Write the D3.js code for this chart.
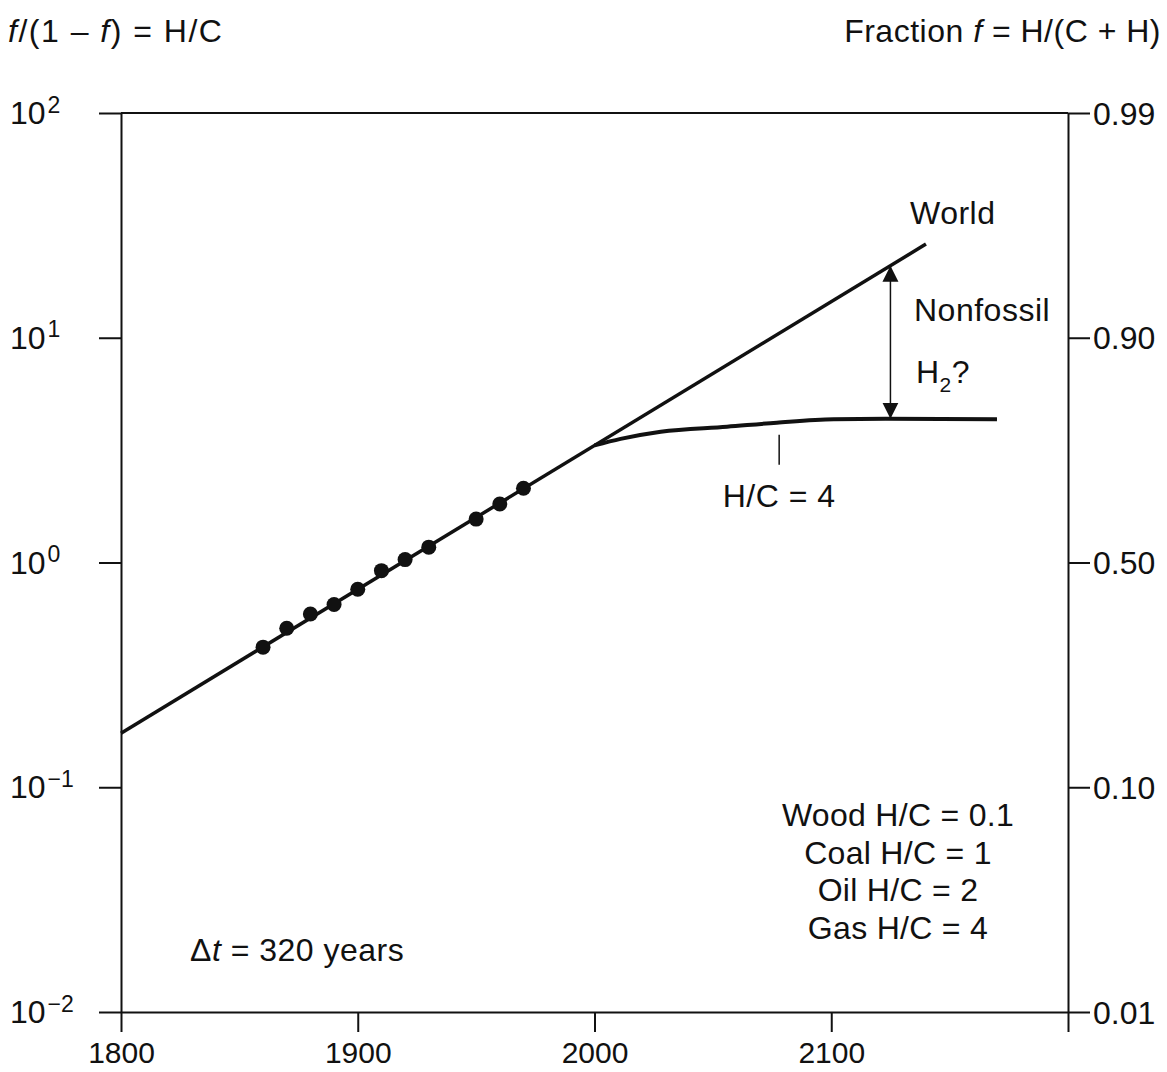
<!DOCTYPE html>
<html>
<head>
<meta charset="utf-8">
<script src="https://cdn.jsdelivr.net/npm/d3@7"></script>
<style>
body { margin: 0; background: #fff; }
text { font-family: "Liberation Sans", Arial, Helvetica, sans-serif; fill: #111; }
</style>
</head>
<body>
<div id="chart"></div>
<script>
// axis ticks and labels
var yearTicks = [1800, 1900, 2000, 2100, 2200];
var yearLabels = ["1800", "1900", "2000", "2100", ""];
var ratioTicks = [0.01, 0.1, 1, 10, 100];
var ratioExp = ["−2", "−1", "0", "1", "2"];
var fracLabels = ["0.01", "0.10", "0.50", "0.90", "0.99"];

// observed H/C ratio (dots)
var obsYears = [1860, 1870, 1880, 1890, 1900, 1910, 1920, 1930, 1950, 1960, 1970];
var obsRatio = [0.42, 0.51, 0.59, 0.65, 0.76, 0.92, 1.03, 1.17, 1.56, 1.82, 2.14];

// world trend line
var worldYears = [1800, 2140];
var worldRatio = [0.174, 26.1];

// fossil fuels levelling off at H/C = 4
var fossilYears = [2000, 2011, 2028, 2056, 2077, 2101, 2123, 2170];
var fossilRatio = [3.32, 3.55, 3.82, 4.02, 4.19, 4.34, 4.36, 4.34];

// nonfossil gap arrow
var arrowYear = 2125;
var arrowRatio = [20.9, 4.36];
var markYear = 2078;

var legendLines = ["Wood H/C = 0.1", "Coal H/C = 1", "Oil H/C = 2", "Gas H/C = 4"];

var W = 1167, H = 1072;
var svg = d3.select("#chart").append("svg")
  .attr("width", W)
  .attr("height", H);
svg.append("rect").attr("width", W).attr("height", H).attr("fill", "#fff");

var x = d3.scaleLinear().domain([1800, 2200]).range([121, 1068]);
var y = d3.scaleLog().domain([0.01, 100]).range([1012, 113]);

var tickLen = 22;

// left axis, H/C ratio
var gL = svg.append("g")
  .attr("transform", "translate(" + x(1800) + ",0)")
  .call(d3.axisLeft(y).tickValues(ratioTicks).tickSize(tickLen).tickSizeOuter(0).tickFormat(""));
gL.selectAll("text").each(function(d, i) {
  var t = d3.select(this)
    .attr("x", 10 - x(1800))
    .attr("dy", "0.33em")
    .attr("text-anchor", "start")
    .style("font-size", "32px");
  t.append("tspan").text("10");
  t.append("tspan").attr("dy", "-0.5em").attr("dx", 2).style("font-size", "23px").text(ratioExp[i]);
});

// right axis, fraction f
var gR = svg.append("g")
  .attr("transform", "translate(" + x(2200) + ",0)")
  .call(d3.axisRight(y).tickValues(ratioTicks).tickSize(tickLen).tickSizeOuter(0)
    .tickPadding(3).tickFormat(function(d, i) { return fracLabels[i]; }));
gR.selectAll("text").style("font-size", "32px").attr("dy", "0.35em");

// bottom axis
var gB = svg.append("g")
  .attr("transform", "translate(0," + y(0.01) + ")")
  .call(d3.axisBottom(x).tickValues(yearTicks).tickSize(20).tickSizeOuter(0)
    .tickPadding(10).tickFormat(function(d, i) { return yearLabels[i]; }));
gB.selectAll("text").style("font-size", "30px");

// top border
svg.append("line")
  .attr("x1", x(1800)).attr("x2", x(2200))
  .attr("y1", y(100)).attr("y2", y(100))
  .attr("stroke", "#111").attr("stroke-width", 2);

svg.selectAll(".domain, .tick line").attr("stroke", "#111").attr("stroke-width", 2);
svg.selectAll(".tick text").attr("fill", "#111");

// world line
var line = d3.line()
  .x(function(d) { return x(d[0]); })
  .y(function(d) { return y(d[1]); });

svg.append("path")
  .datum(d3.zip(worldYears, worldRatio))
  .attr("d", line)
  .attr("fill", "none")
  .attr("stroke", "#111")
  .attr("stroke-width", 3.5);

// fossil curve
svg.append("path")
  .datum(d3.zip(fossilYears, fossilRatio))
  .attr("d", line.curve(d3.curveMonotoneX))
  .attr("fill", "none")
  .attr("stroke", "#111")
  .attr("stroke-width", 4);

// observed dots
svg.selectAll(".obs")
  .data(d3.zip(obsYears, obsRatio))
  .enter()
  .append("circle")
    .attr("class", "obs")
    .attr("cx", function(d) { return x(d[0]); })
    .attr("cy", function(d) { return y(d[1]); })
    .attr("r", 7.5)
    .attr("fill", "#111");

// double arrow for the nonfossil gap
var defs = svg.append("defs");
defs.append("marker")
  .attr("id", "head")
  .attr("viewBox", "0 0 16 18")
  .attr("refX", 16).attr("refY", 9)
  .attr("markerWidth", 16).attr("markerHeight", 18)
  .attr("markerUnits", "userSpaceOnUse")
  .attr("orient", "auto-start-reverse")
  .append("path")
    .attr("d", "M0,1 L16,9 L0,17 Z")
    .attr("fill", "#111");

svg.append("line")
  .attr("x1", x(arrowYear)).attr("x2", x(arrowYear))
  .attr("y1", y(arrowRatio[0])).attr("y2", y(arrowRatio[1]))
  .attr("stroke", "#111")
  .attr("stroke-width", 1.5)
  .attr("marker-start", "url(#head)")
  .attr("marker-end", "url(#head)");

// leader tick for H/C = 4
svg.append("line")
  .attr("x1", x(markYear)).attr("x2", x(markYear))
  .attr("y1", y(fossilRatio[4]) + 12).attr("y2", y(fossilRatio[4]) + 42)
  .attr("stroke", "#111")
  .attr("stroke-width", 1.5);

// texts
function label(tx, ty, anchor) {
  return svg.append("text")
    .attr("x", tx).attr("y", ty)
    .attr("text-anchor", anchor || "start")
    .style("font-size", "32px")
    .style("letter-spacing", "0.5px");
}

var t1 = label(8, 42).style("letter-spacing", "1.5px");
t1.append("tspan").style("font-style", "italic").text("f");
t1.append("tspan").text("/(1 – ");
t1.append("tspan").style("font-style", "italic").text("f");
t1.append("tspan").text(")  =  H/C");

var t2 = label(1161, 42, "end");
t2.append("tspan").text("Fraction ");
t2.append("tspan").style("font-style", "italic").text("f");
t2.append("tspan").text(" = H/(C + H)");

label(910, 224).text("World");
label(914, 321).text("Nonfossil");
var h2 = label(916, 383);
h2.append("tspan").text("H");
h2.append("tspan").attr("dy", 9).style("font-size", "21px").text("2");
h2.append("tspan").attr("dy", -9).text("?");

label(x(markYear), 507, "middle").text("H/C = 4");

svg.selectAll(".legend")
  .data(legendLines)
  .enter()
  .append("text")
    .attr("class", "legend")
    .attr("x", 898)
    .attr("y", function(d, i) { return 826 + i * 37.5; })
    .attr("text-anchor", "middle")
    .style("font-size", "32px")
    .style("letter-spacing", "0.3px")
    .text(function(d) { return d; });

var dt = label(190, 961);
dt.append("tspan").text("Δ");
dt.append("tspan").style("font-style", "italic").text("t");
dt.append("tspan").text(" = 320 years");
</script>
</body>
</html>
